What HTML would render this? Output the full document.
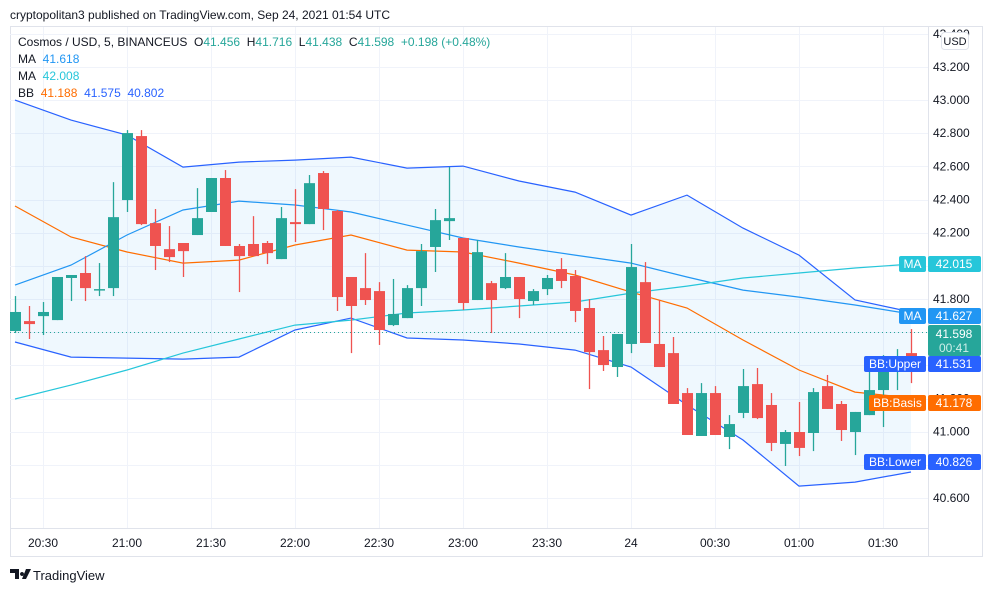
<!DOCTYPE html>
<html><head><meta charset="utf-8">
<style>
body{margin:0;background:#fff;font-family:"Liberation Sans",sans-serif;}
#wrap{position:relative;width:993px;height:592px;overflow:hidden;background:#fff}
svg text{font-family:"Liberation Sans",sans-serif}
</style></head>
<body>
<div id="wrap">
<svg id="chart" width="993" height="592" xmlns="http://www.w3.org/2000/svg"></svg>
</div>
<script>
const opens=[41.607,41.667,41.697,41.673,41.927,41.957,41.854,41.866,42.397,42.783,42.258,42.101,42.138,42.186,42.325,42.530,42.120,42.132,42.138,42.041,42.264,42.252,42.560,42.331,41.933,41.866,41.848,41.643,41.685,41.866,42.114,42.270,42.168,41.794,41.896,41.866,41.933,41.788,41.860,41.981,41.939,41.746,41.492,41.390,41.529,41.902,41.529,41.474,41.233,40.974,41.233,40.968,41.113,41.287,41.161,40.926,40.998,40.992,41.275,41.167,40.998,41.100,41.251,41.402,41.474];
const highs=[41.818,41.758,41.782,41.933,41.945,42.059,42.017,42.505,42.819,42.819,42.343,42.240,42.138,42.469,42.530,42.578,42.132,42.300,42.150,42.355,42.463,42.548,42.572,42.337,41.933,42.077,41.902,41.921,41.884,42.132,42.343,42.596,42.168,42.156,41.909,42.077,41.933,41.860,41.945,42.047,41.975,41.800,41.577,41.589,42.132,42.023,41.794,41.571,41.263,41.293,41.275,41.100,41.378,41.384,41.233,41.010,41.179,41.263,41.342,41.185,41.119,41.372,41.462,41.498,41.619];
const lows=[41.595,41.559,41.583,41.673,41.788,41.788,41.818,41.818,42.325,42.246,41.975,42.023,41.933,42.186,42.325,42.120,41.842,42.059,42.011,42.041,42.144,42.252,42.216,41.728,41.474,41.764,41.523,41.637,41.685,41.758,41.963,42.156,41.734,41.794,41.595,41.860,41.685,41.764,41.824,41.866,41.661,41.257,41.366,41.330,41.474,41.535,41.390,41.167,40.980,40.974,40.980,40.895,41.082,41.076,40.883,40.793,40.853,40.883,41.137,40.944,40.859,41.100,41.028,41.251,41.293];
const closes=[41.722,41.649,41.722,41.933,41.945,41.866,41.860,42.294,42.801,42.252,42.120,42.053,42.089,42.288,42.530,42.120,42.059,42.059,42.077,42.288,42.252,42.499,42.343,41.812,41.758,41.794,41.613,41.710,41.866,42.089,42.276,42.288,41.776,42.083,41.794,41.933,41.800,41.848,41.927,41.909,41.728,41.480,41.402,41.589,41.993,41.535,41.390,41.167,40.980,41.233,40.980,41.046,41.275,41.082,40.932,40.998,40.902,41.239,41.137,41.010,41.119,41.251,41.432,41.450,41.444];
// indicator lines sampled every 4 candles
const maFast=[41.884,42.005,42.186,42.337,42.391,42.367,42.325,42.246,42.168,42.114,42.065,42.017,41.933,41.854,41.812,41.764,41.710];
const maSlow=[41.197,41.281,41.372,41.474,41.559,41.643,41.673,41.716,41.734,41.758,41.782,41.836,41.878,41.927,41.957,41.987,42.011];
const bbBasis=[42.361,42.174,42.084,42.017,42.035,42.126,42.186,42.095,42.084,42.017,41.945,41.842,41.746,41.553,41.372,41.239,41.203];
const bbUpper=[43.000,42.879,42.789,42.596,42.626,42.638,42.656,42.590,42.602,42.512,42.445,42.306,42.427,42.228,42.065,41.794,41.722];
const bbLower=[41.541,41.450,41.444,41.438,41.450,41.613,41.685,41.565,41.553,41.529,41.492,41.390,41.161,40.950,40.672,40.696,40.757];
const priceTicks=[40.6,40.8,41.0,41.2,41.4,41.6,41.8,42.0,42.2,42.4,42.6,42.8,43.0,43.2,43.4];
const timeLabels=["20:30","21:00","21:30","22:00","22:30","23:00","23:30","24","00:30","01:00","01:30"];

const NS="http://www.w3.org/2000/svg";
const svg=document.getElementById('chart');
const L=10,R=928,T=27,B=528;
function y(p){return 498-(p-40.6)*165.8;}
function x(i){return 15+14*i;}
function el(tag,attrs,parent){const e=document.createElementNS(NS,tag);for(const k in attrs)e.setAttribute(k,attrs[k]);(parent||svg).appendChild(e);return e;}
function txt(s,attrs,parent){const e=el('text',attrs,parent);e.textContent=s;return e;}

let fr=el('rect',{x:10.5,y:26.5,width:972,height:530,fill:'none',stroke:'#e0e3eb'});


let clip=el('clipPath',{id:'pane'});el('rect',{x:L,y:T,width:R-L,height:B-T},clip);

const grid=el('g',{});


priceTicks.forEach(p=>{const yy=Math.round(y(p))+0.5;if(yy>T&&yy<B)el('line',{x1:L,x2:R,y1:yy,y2:yy,stroke:'#f0f3fa'},grid);});
timeLabels.forEach((t,k)=>{const xx=Math.round(x(2+6*k))+0.5;el('line',{x1:xx,x2:xx,y1:T,y2:B,stroke:'#f0f3fa'},grid);});

el('line',{x1:R+0.5,x2:R+0.5,y1:T,y2:556,stroke:'#e0e3eb'});
el('line',{x1:L,x2:R,y1:528.5,y2:528.5,stroke:'#e0e3eb'});

const pane=el('g',{'clip-path':'url(#pane)'});



function pts(arr){return arr.map((v,k)=>x(4*k).toFixed(1)+','+y(v).toFixed(1));}
const band=el('polygon',{points:pts(bbUpper).concat(pts(bbLower).reverse()).join(' '),fill:'rgba(33,150,243,0.07)'},pane);


function line(arr,color,name){const p=el('polyline',{points:pts(arr).join(' '),fill:'none',stroke:color,'stroke-width':1.2},pane);}
line(bbUpper,'#2962ff','bb-upper-line');
line(bbLower,'#2962ff','bb-lower-line');
line(bbBasis,'#ff6d00','bb-basis-line');
line(maFast,'#2196f3','ma-fast-line');
line(maSlow,'#26c6da','ma-slow-line');

const lp=el('line',{x1:L,x2:R,y1:332.5,y2:332.5,stroke:'#26a69a','stroke-dasharray':'1,3'},pane);



for(let i=0;i<opens.length;i++){
  const up=closes[i]>=opens[i];const c=up?'#26a69a':'#ef5350';
  const g=el('g',{},pane);
  
  
  const cx=Math.round(x(i))+0.5;
  el('line',{x1:cx,x2:cx,y1:y(highs[i]),y2:y(lows[i]),stroke:c,'stroke-width':1.3},g);
  const top=y(Math.max(opens[i],closes[i])),bot=y(Math.min(opens[i],closes[i]));
  el('rect',{x:cx-5.5,y:top,width:11,height:Math.max(1.5,bot-top),fill:c},g);
}

const ax=el('g',{});


priceTicks.forEach(p=>{const yy=y(p);if(yy>30&&yy<520)txt(p.toFixed(3),{x:933,y:yy+4,'font-size':12,fill:'#131722'},ax);});
const tx=el('g',{});


timeLabels.forEach((t,k)=>txt(t,{x:x(2+6*k),y:547,'font-size':12,fill:'#131722','text-anchor':'middle'},tx));

const usd=el('g',{});


el('rect',{x:941.5,y:32.5,width:27,height:17,rx:3,fill:'#fff',stroke:'#e0e3eb'},usd);
txt('USD',{x:955,y:45,'font-size':11,fill:'#131722','text-anchor':'middle'},usd);

function tag(label,val,yc,color,name,w){
  const g=el('g',{});
  
  
  if(label){el('rect',{x:926-w,y:yc-8,width:w,height:16,rx:2,fill:color},g);txt(label,{x:926-w/2,y:yc+4,'font-size':12,fill:'#fff','text-anchor':'middle'},g);}
  el('rect',{x:928,y:yc-8,width:53,height:16,rx:2,fill:color},g);
  txt(val,{x:954,y:yc+4,'font-size':12,fill:'#fff','text-anchor':'middle'},g);
}
tag('MA','42.015',264,'#26c6da','ma-slow-label',27);
tag('MA','41.627',316,'#2196f3','ma-fast-label',27);
const lastG=el('g',{});


el('rect',{x:928,y:325,width:53,height:31,rx:2,fill:'#26a69a'},lastG);
txt('41.598',{x:954,y:338,'font-size':12,fill:'#fff','text-anchor':'middle'},lastG);
txt('00:41',{x:954,y:352,'font-size':12,fill:'#cdeee9','text-anchor':'middle'},lastG);
tag('BB:Upper','41.531',364,'#2962ff','bb-upper-label',62);
tag('BB:Basis','41.178',403,'#ff6d00','bb-basis-label',57);
tag('BB:Lower','40.826',462,'#2962ff','bb-lower-label',62);

let hd=txt('cryptopolitan3 published on TradingView.com, Sep 24, 2021 01:54 UTC',{x:10,y:19,'font-size':12,fill:'#131722'});



const lg=el('g',{'font-size':12});


let t1=el('text',{x:18,y:46,fill:'#131722'},lg);
t1.innerHTML='Cosmos / USD, 5, BINANCEUS&#160; O<tspan fill="#26a69a">41.456</tspan>&#160; H<tspan fill="#26a69a">41.716</tspan>&#160; L<tspan fill="#26a69a">41.438</tspan>&#160; C<tspan fill="#26a69a">41.598</tspan>&#160; <tspan fill="#26a69a">+0.198 (+0.48%)</tspan>';
let t2=el('text',{x:18,y:63,fill:'#131722'},lg);t2.innerHTML='MA&#160; <tspan fill="#2196f3">41.618</tspan>';
let t3=el('text',{x:18,y:80,fill:'#131722'},lg);t3.innerHTML='MA&#160; <tspan fill="#26c6da">42.008</tspan>';
let t4=el('text',{x:18,y:97,fill:'#131722'},lg);t4.innerHTML='BB&#160; <tspan fill="#ff6d00">41.188</tspan>&#160; <tspan fill="#2962ff">41.575</tspan>&#160; <tspan fill="#2962ff">40.802</tspan>';

const ft=el('g',{});


el('path',{d:'M10 569h9v10h-4v-6h-5z M22 572a2 2 0 1 0 0.01 0z M26 569h5l-5 10h-4z',fill:'#131722'},ft);
txt('TradingView',{x:33,y:580,'font-size':13,fill:'#131722'},ft);
</script>
</body></html>
